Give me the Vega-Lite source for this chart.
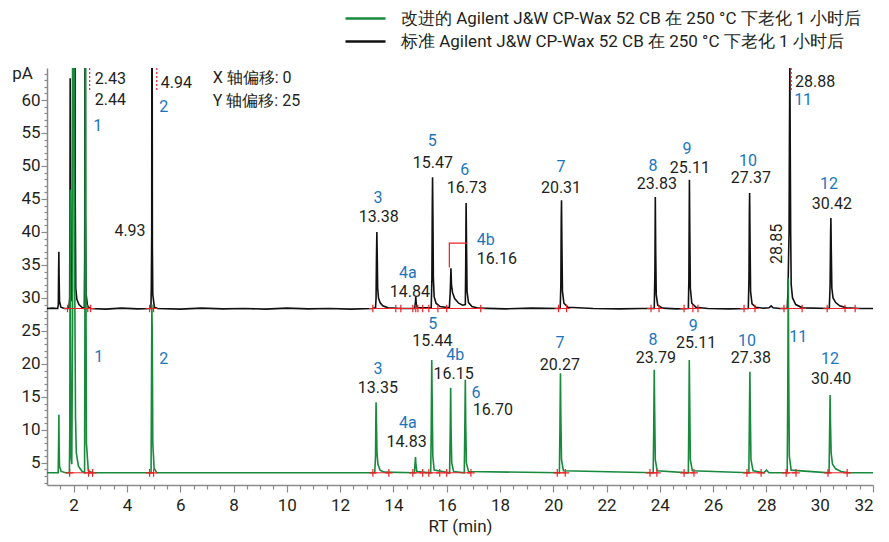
{
 "$schema": "https://vega.github.io/schema/vega-lite/v6.json",
 "width": 826,
 "height": 417,
 "autosize": {"type": "none"},
 "padding": {"left": 47, "top": 68, "right": 16, "bottom": 57},
 "background": "white",
 "config": {
  "font": "Roboto",
  "view": {"stroke": null},
  "axis": {"grid": false, "labelFont": "Roboto", "titleFont": "Roboto", "labelFontSize": 17, "titleFontSize": 17, "titleFontWeight": "normal", "labelColor": "#231f20", "titleColor": "#231f20", "domainColor": "#8a8a8a", "tickColor": "#8a8a8a", "domainWidth": 1.5, "tickWidth": 1.2}
 },
 "datasets": {
  "black": [
   {"t":1.0,"v":28.4},{"t":1.2,"v":28.45},{"t":1.4,"v":28.4},{"t":1.425,"v":29},{"t":1.435,"v":33.5},{"t":1.445,"v":37.0},{"t":1.455,"v":33},{"t":1.47,"v":29.5},{"t":1.52,"v":28.6},{"t":1.65,"v":28.4},
   {"t":1.82,"v":28.4},{"t":1.85,"v":30},{"t":1.862,"v":45},{"t":1.87,"v":63.3},{"t":1.88,"v":45},{"t":1.895,"v":31},{"t":1.92,"v":29.5},{"t":1.95,"v":31},{"t":1.965,"v":70},{"t":1.98,"v":100},{"t":1.995,"v":75},{"t":2.01,"v":100},{"t":2.04,"v":100},{"t":2.06,"v":45},{"t":2.08,"v":31.5},{"t":2.12,"v":29.8},{"t":2.2,"v":29.0},{"t":2.3,"v":28.6},
   {"t":2.4,"v":28.4},{"t":2.415,"v":36},{"t":2.43,"v":100},{"t":2.445,"v":42},{"t":2.47,"v":30.5},{"t":2.52,"v":28.8},{"t":2.62,"v":28.4},{"t":3.2,"v":28.3},{"t":3.8,"v":28.45},{"t":4.4,"v":28.35},
   {"t":4.9,"v":28.4},{"t":4.915,"v":31.5},{"t":4.93,"v":40},{"t":4.94,"v":100},{"t":4.955,"v":38},{"t":4.97,"v":30.5},{"t":5.03,"v":28.6},{"t":5.15,"v":28.4},
   {"t":6.0,"v":28.3},{"t":6.8,"v":28.45},{"t":7.6,"v":28.35},{"t":8.4,"v":28.4},{"t":9.2,"v":28.3},{"t":10.0,"v":28.45},{"t":10.8,"v":28.35},{"t":11.6,"v":28.4},{"t":12.4,"v":28.3},{"t":13.2,"v":28.4},
   {"t":13.33,"v":28.5},{"t":13.35,"v":30},{"t":13.365,"v":36},{"t":13.38,"v":40.0},{"t":13.395,"v":36},{"t":13.41,"v":31.5},{"t":13.44,"v":30},{"t":13.5,"v":29.3},{"t":13.6,"v":28.8},{"t":13.8,"v":28.5},{"t":14.3,"v":28.4},
   {"t":14.8,"v":28.4},{"t":14.83,"v":29.5},{"t":14.84,"v":30.2},{"t":14.86,"v":29},{"t":14.9,"v":28.5},
   {"t":15.42,"v":28.5},{"t":15.445,"v":33},{"t":15.46,"v":44},{"t":15.47,"v":48.3},{"t":15.485,"v":42},{"t":15.5,"v":33},{"t":15.53,"v":30.2},{"t":15.6,"v":29.2},{"t":15.75,"v":28.7},
   {"t":16.1,"v":28.5},{"t":16.135,"v":31},{"t":16.16,"v":34.5},{"t":16.18,"v":32},{"t":16.22,"v":30.8},{"t":16.3,"v":29.9},{"t":16.45,"v":29.2},{"t":16.6,"v":28.9},
   {"t":16.7,"v":29},{"t":16.715,"v":35},{"t":16.725,"v":42},{"t":16.73,"v":44.4},{"t":16.745,"v":38},{"t":16.765,"v":31},{"t":16.82,"v":29.3},{"t":16.95,"v":28.7},{"t":17.2,"v":28.45},{"t":18.2,"v":28.35},{"t":19.2,"v":28.45},
   {"t":20.26,"v":28.4},{"t":20.285,"v":32},{"t":20.3,"v":42},{"t":20.31,"v":44.8},{"t":20.325,"v":38},{"t":20.345,"v":31},{"t":20.4,"v":29.2},{"t":20.55,"v":28.6},{"t":21.5,"v":28.4},{"t":22.5,"v":28.35},{"t":23.3,"v":28.4},
   {"t":23.79,"v":28.4},{"t":23.815,"v":34},{"t":23.83,"v":45.3},{"t":23.845,"v":37},{"t":23.865,"v":30.5},{"t":23.92,"v":28.9},{"t":24.1,"v":28.45},{"t":24.6,"v":28.35},
   {"t":25.07,"v":28.4},{"t":25.09,"v":33},{"t":25.105,"v":44},{"t":25.11,"v":47.9},{"t":25.125,"v":40},{"t":25.145,"v":31.5},{"t":25.2,"v":29.2},{"t":25.35,"v":28.6},{"t":25.8,"v":28.4},{"t":26.6,"v":28.35},
   {"t":27.32,"v":28.4},{"t":27.345,"v":33},{"t":27.36,"v":43},{"t":27.37,"v":45.9},{"t":27.385,"v":39},{"t":27.405,"v":31},{"t":27.46,"v":29.1},{"t":27.6,"v":28.6},{"t":27.9,"v":28.45},{"t":28.1,"v":28.5},{"t":28.18,"v":28.8},{"t":28.25,"v":28.5},{"t":28.5,"v":28.4},
   {"t":28.78,"v":28.4},{"t":28.81,"v":31},{"t":28.835,"v":37},{"t":28.85,"v":40},{"t":28.865,"v":55},{"t":28.88,"v":66},{"t":28.895,"v":52},{"t":28.91,"v":40},{"t":28.93,"v":32},{"t":28.98,"v":30},{"t":29.1,"v":29},{"t":29.35,"v":28.5},
   {"t":30.36,"v":28.4},{"t":30.39,"v":32},{"t":30.41,"v":40},{"t":30.42,"v":42.1},{"t":30.435,"v":37},{"t":30.455,"v":31.5},{"t":30.5,"v":30},{"t":30.6,"v":29.3},{"t":30.75,"v":28.8},{"t":31.0,"v":28.5},{"t":31.5,"v":28.4},{"t":32.0,"v":28.4}
  ],
  "green": [
   {"t":1.0,"v":3.5},{"t":1.3,"v":3.5},{"t":1.42,"v":3.5},{"t":1.435,"v":8},{"t":1.445,"v":12.3},{"t":1.455,"v":7.5},{"t":1.47,"v":4.5},{"t":1.53,"v":3.7},{"t":1.7,"v":3.5},
   {"t":1.84,"v":3.5},{"t":1.855,"v":10},{"t":1.87,"v":46.4},{"t":1.885,"v":20},{"t":1.9,"v":6},{"t":1.93,"v":4.8},{"t":1.96,"v":25},{"t":1.975,"v":100},{"t":2.0,"v":100},{"t":2.025,"v":60},{"t":2.045,"v":30},{"t":2.07,"v":12},{"t":2.1,"v":6.5},{"t":2.18,"v":4.5},{"t":2.3,"v":3.8},
   {"t":2.41,"v":3.5},{"t":2.425,"v":30},{"t":2.44,"v":100},{"t":2.455,"v":40},{"t":2.48,"v":8},{"t":2.55,"v":3.8},{"t":2.7,"v":3.5},{"t":3.5,"v":3.5},{"t":4.2,"v":3.5},
   {"t":4.905,"v":3.5},{"t":4.92,"v":15},{"t":4.935,"v":29},{"t":4.95,"v":25},{"t":4.97,"v":8},{"t":5.02,"v":4.2},{"t":5.12,"v":3.5},{"t":8.0,"v":3.5},{"t":11.0,"v":3.5},
   {"t":13.3,"v":3.5},{"t":13.33,"v":6},{"t":13.34,"v":11},{"t":13.35,"v":14.2},{"t":13.365,"v":11},{"t":13.385,"v":6.5},{"t":13.42,"v":4.8},{"t":13.5,"v":3.9},{"t":13.65,"v":3.6},
   {"t":14.79,"v":3.5},{"t":14.815,"v":5},{"t":14.83,"v":5.9},{"t":14.845,"v":4.8},{"t":14.88,"v":3.7},
   {"t":15.4,"v":3.5},{"t":15.42,"v":10},{"t":15.435,"v":18},{"t":15.44,"v":20.6},{"t":15.455,"v":15},{"t":15.48,"v":6},{"t":15.53,"v":3.9},
   {"t":16.11,"v":3.5},{"t":16.13,"v":9},{"t":16.15,"v":16.4},{"t":16.165,"v":10},{"t":16.19,"v":5},{"t":16.26,"v":3.7},
   {"t":16.66,"v":3.5},{"t":16.68,"v":10},{"t":16.7,"v":17.6},{"t":16.715,"v":11},{"t":16.74,"v":5},{"t":16.82,"v":3.7},
   {"t":20.23,"v":3.5},{"t":20.25,"v":10},{"t":20.27,"v":18.6},{"t":20.285,"v":12},{"t":20.31,"v":5.5},{"t":20.38,"v":3.8},
   {"t":23.75,"v":3.5},{"t":23.77,"v":10},{"t":23.79,"v":19.1},{"t":23.805,"v":13},{"t":23.83,"v":5.5},{"t":23.9,"v":3.8},
   {"t":25.07,"v":3.5},{"t":25.09,"v":12},{"t":25.105,"v":20.6},{"t":25.12,"v":15},{"t":25.145,"v":5.5},{"t":25.22,"v":3.8},
   {"t":27.34,"v":3.5},{"t":27.36,"v":11},{"t":27.38,"v":18.8},{"t":27.395,"v":13},{"t":27.42,"v":5.5},{"t":27.5,"v":3.8},{"t":27.9,"v":3.5},{"t":28.0,"v":3.9},{"t":28.1,"v":3.5},
   {"t":28.78,"v":3.5},{"t":28.8,"v":15},{"t":28.82,"v":33},{"t":28.835,"v":20},{"t":28.86,"v":6},{"t":28.93,"v":3.9},
   {"t":30.35,"v":3.5},{"t":30.37,"v":9},{"t":30.39,"v":15.3},{"t":30.405,"v":11},{"t":30.43,"v":6.5},{"t":30.48,"v":4.8},{"t":30.6,"v":4.1},{"t":30.8,"v":3.7},{"t":31.1,"v":3.5},{"t":32.0,"v":3.5}
  ],
  "segs": [
   {"t":1.77,"t2":2.64,"v":28.4},{"t":4.85,"t2":5.0,"v":28.4},{"t":13.23,"t2":17.28,"v":28.4},{"t":20.2,"t2":20.5,"v":28.4},{"t":23.67,"t2":23.97,"v":28.4},{"t":24.91,"t2":25.43,"v":28.4},{"t":27.16,"t2":27.57,"v":28.4},{"t":28.66,"t2":29.34,"v":28.4},{"t":30.28,"t2":31.33,"v":28.4},
   {"t":1.85,"t2":2.71,"v":3.5},{"t":4.85,"t2":5.0,"v":3.5},{"t":13.23,"t2":13.83,"v":3.5},{"t":14.73,"t2":15.1,"v":3.5},{"t":15.33,"t2":15.74,"v":3.5},{"t":16.0,"t2":16.91,"v":3.5},{"t":20.15,"t2":20.45,"v":3.5},{"t":23.63,"t2":23.89,"v":3.5},{"t":24.91,"t2":25.28,"v":3.5},{"t":27.27,"t2":27.8,"v":3.5},{"t":28.74,"t2":29.11,"v":3.5},{"t":30.31,"t2":31.03,"v":3.5}
  ],
  "cross": [
   {"t":1.77,"v":28.4},{"t":2.53,"v":28.4},{"t":2.64,"v":28.4},{"t":4.85,"v":28.4},{"t":5.0,"v":28.4},{"t":13.23,"v":28.4},{"t":14.09,"v":28.4},{"t":14.28,"v":28.4},{"t":14.73,"v":28.4},{"t":14.84,"v":28.4},{"t":14.92,"v":28.4},{"t":15.1,"v":28.4},{"t":15.33,"v":28.4},{"t":15.67,"v":28.4},{"t":16.0,"v":28.4},{"t":17.28,"v":28.4},{"t":20.2,"v":28.4},{"t":20.5,"v":28.4},{"t":23.67,"v":28.4},{"t":23.97,"v":28.4},{"t":24.91,"v":28.4},{"t":25.24,"v":28.4},{"t":25.43,"v":28.4},{"t":27.16,"v":28.4},{"t":27.57,"v":28.4},{"t":28.66,"v":28.4},{"t":29.34,"v":28.4},{"t":30.28,"v":28.4},{"t":30.95,"v":28.4},{"t":31.33,"v":28.4},
   {"t":1.85,"v":3.5},{"t":2.56,"v":3.5},{"t":2.71,"v":3.5},{"t":4.85,"v":3.5},{"t":5.0,"v":3.5},{"t":13.23,"v":3.5},{"t":13.83,"v":3.5},{"t":14.73,"v":3.5},{"t":15.1,"v":3.5},{"t":15.33,"v":3.5},{"t":15.74,"v":3.5},{"t":16.0,"v":3.5},{"t":16.91,"v":3.5},{"t":20.15,"v":3.5},{"t":20.45,"v":3.5},{"t":23.63,"v":3.5},{"t":23.89,"v":3.5},{"t":24.91,"v":3.5},{"t":25.28,"v":3.5},{"t":27.27,"v":3.5},{"t":27.8,"v":3.5},{"t":28.74,"v":3.5},{"t":29.11,"v":3.5},{"t":30.31,"v":3.5},{"t":31.03,"v":3.5}
  ],
  "dots": [
   {"t":2.6,"v":64.85,"v2":61.2},{"t":5.12,"v":64.85,"v2":61.2},{"t":28.93,"v":64.85,"v2":61.2}
  ],
  "bracket": [
   {"t":16.1,"v":34.6},{"t":16.1,"v":38.3},{"t":16.76,"v":38.3}
  ],
  "labC": [
   {"t":2.9,"v":56.0,"txt":"1","k":"n"},{"t":5.38,"v":58.9,"txt":"2","k":"n"},{"t":13.42,"v":45.2,"txt":"3","k":"n"},{"t":14.54,"v":33.8,"txt":"4a","k":"n"},{"t":15.46,"v":53.8,"txt":"5","k":"n"},{"t":16.68,"v":49.4,"txt":"6","k":"n"},{"t":20.29,"v":49.9,"txt":"7","k":"n"},{"t":23.74,"v":50.0,"txt":"8","k":"n"},{"t":25.02,"v":52.5,"txt":"9","k":"n"},{"t":27.31,"v":50.8,"txt":"10","k":"n"},{"t":30.35,"v":47.2,"txt":"12","k":"n"},
   {"t":13.45,"v":42.3,"txt":"13.38","k":"r"},{"t":14.62,"v":30.9,"txt":"14.84","k":"r"},{"t":15.48,"v":50.45,"txt":"15.47","k":"r"},{"t":16.76,"v":46.7,"txt":"16.73","k":"r"},{"t":20.29,"v":46.7,"txt":"20.31","k":"r"},{"t":23.89,"v":47.3,"txt":"23.83","k":"r"},{"t":25.13,"v":49.75,"txt":"25.11","k":"r"},{"t":27.42,"v":48.2,"txt":"27.37","k":"r"},{"t":30.46,"v":44.2,"txt":"30.42","k":"r"},
   {"t":2.94,"v":21.1,"txt":"1","k":"n"},{"t":5.38,"v":20.8,"txt":"2","k":"n"},{"t":13.42,"v":19.3,"txt":"3","k":"n"},{"t":14.54,"v":11.0,"txt":"4a","k":"n"},{"t":15.48,"v":26.1,"txt":"5","k":"n"},{"t":16.32,"v":21.4,"txt":"4b","k":"n"},{"t":17.1,"v":15.6,"txt":"6","k":"n"},{"t":20.25,"v":23.1,"txt":"7","k":"n"},{"t":23.74,"v":23.6,"txt":"8","k":"n"},{"t":25.25,"v":25.8,"txt":"9","k":"n"},{"t":27.27,"v":23.5,"txt":"10","k":"n"},{"t":29.19,"v":24.1,"txt":"11","k":"n"},{"t":30.39,"v":20.8,"txt":"12","k":"n"},
   {"t":13.42,"v":16.4,"txt":"13.35","k":"r"},{"t":14.5,"v":8.2,"txt":"14.83","k":"r"},{"t":15.46,"v":23.4,"txt":"15.44","k":"r"},{"t":16.26,"v":18.5,"txt":"16.15","k":"r"},{"t":20.25,"v":19.85,"txt":"20.27","k":"r"},{"t":23.85,"v":20.9,"txt":"23.79","k":"r"},{"t":25.36,"v":23.2,"txt":"25.11","k":"r"},{"t":27.42,"v":20.9,"txt":"27.38","k":"r"},{"t":30.43,"v":17.7,"txt":"30.40","k":"r"}
  ],
  "labL": [
   {"t":2.79,"v":63.2,"txt":"2.43","k":"r"},{"t":2.79,"v":60.0,"txt":"2.44","k":"r"},{"t":5.27,"v":62.6,"txt":"4.94","k":"r"},{"t":7.22,"v":63.3,"txt":"X 轴偏移: 0","k":"r"},{"t":7.22,"v":59.85,"txt":"Y 轴偏移: 25","k":"r"},{"t":29.07,"v":62.75,"txt":"28.88","k":"r"},{"t":29.04,"v":60.0,"txt":"11","k":"n"},{"t":17.13,"v":38.8,"txt":"4b","k":"n"},{"t":17.13,"v":35.9,"txt":"16.16","k":"r"},{"t":16.98,"v":13.0,"txt":"16.70","k":"r"}
  ],
  "labR": [
   {"t":4.7,"v":40.15,"txt":"4.93","k":"r"}
  ],
  "labV": [
   {"t":28.4,"v":38.2,"txt":"28.85","k":"r"}
  ]
 },
 "layer": [
  {
   "data": {"name": "black"},
   "mark": {"type": "line", "strokeWidth": 1.6, "clip": true, "interpolate": "linear"},
   "encoding": {
    "x": {"field": "t", "type": "quantitative", "sort": null, "scale": {"domain": [1, 32], "nice": false, "zero": false},
          "axis": {"orient": "bottom", "values": [1.5,2.5,3,3.5,4.5,5,5.5,6.5,7,7.5,8.5,9,9.5,10.5,11,11.5,12.5,13,13.5,14.5,15,15.5,16.5,17,17.5,18.5,19,19.5,20.5,21,21.5,22.5,23,23.5,24.5,25,25.5,26.5,27,27.5,28.5,29,29.5,30.5,31,31.5], "labels": false, "domain": false, "tickSize": 4, "title": null}},
    "y": {"field": "v", "type": "quantitative", "scale": {"domain": [1.65, 64.85], "nice": false, "zero": false},
          "axis": {"orient": "left", "values": [2,3,4,6,7,8,9,11,12,13,14,16,17,18,19,21,22,23,24,26,27,28,29,31,32,33,34,36,37,38,39,41,42,43,44,46,47,48,49,51,52,53,54,56,57,58,59,61,62,63,64], "labels": false, "domain": false, "tickSize": 3, "title": null}},
    "color": {"datum": "B", "scale": {"domain": ["A", "B"], "range": ["#178a3c", "#111111"]}}
   }
  },
  {
   "data": {"name": "green"},
   "mark": {"type": "line", "strokeWidth": 1.6, "clip": true, "interpolate": "linear"},
   "encoding": {
    "x": {"field": "t", "type": "quantitative", "sort": null, "scale": {"domain": [1, 32], "nice": false, "zero": false},
          "axis": {"orient": "bottom", "values": [2,4,6,8,10,12,14,16,18,20,22,24,26,28,30,32], "tickSize": 7, "labelPadding": 5, "title": "RT (min)", "titlePadding": 5}},
    "y": {"field": "v", "type": "quantitative", "scale": {"domain": [1.65, 64.85], "nice": false, "zero": false},
          "axis": {"orient": "left", "values": [5,10,15,20,25,30,35,40,45,50,55,60,65], "labelExpr": "datum.value == 65 ? '' : datum.label", "tickSize": 6, "labelPadding": 1, "title": "pA", "titleAngle": 0, "titleX": -25, "titleY": 5, "titleAlign": "center", "titleBaseline": "middle"}},
    "color": {"datum": "A", "scale": {"domain": ["A", "B"], "range": ["#178a3c", "#111111"]},
      "legend": {"orient": "none", "legendX": 310, "legendY": -58, "title": null, "symbolType": "M-4,0H4", "symbolSize": 100, "symbolStrokeWidth": 2.5, "labelFontSize": 17, "labelFont": "Roboto", "labelColor": "#231f20", "labelOffset": 27, "labelLimit": 700, "rowPadding": 5,
        "labelExpr": "datum.label == 'A' ? '改进的 Agilent J&W CP-Wax 52 CB 在 250 °C 下老化 1 小时后' : '标准 Agilent J&W CP-Wax 52 CB 在 250 °C 下老化 1 小时后'"}}
   }
  },
  {
   "data": {"name": "segs"},
   "mark": {"type": "rule", "color": "#ec2227", "strokeWidth": 1, "clip": true},
   "encoding": {
    "x": {"field": "t", "type": "quantitative", "axis": null},
    "x2": {"field": "t2"},
    "y": {"field": "v", "type": "quantitative", "axis": null}
   }
  },
  {
   "data": {"name": "cross"},
   "mark": {"type": "point", "shape": "M-1,0H1M0,-1V1", "size": 60, "stroke": "#ec2227", "strokeWidth": 1.2, "filled": false, "opacity": 1, "clip": true},
   "encoding": {
    "x": {"field": "t", "type": "quantitative", "axis": null},
    "y": {"field": "v", "type": "quantitative", "axis": null}
   }
  },
  {
   "data": {"name": "dots"},
   "mark": {"type": "rule", "color": "#ec2227", "strokeWidth": 1.2, "strokeDash": [2, 2]},
   "encoding": {
    "x": {"field": "t", "type": "quantitative", "axis": null},
    "y": {"field": "v", "type": "quantitative", "axis": null},
    "y2": {"field": "v2"}
   }
  },
  {
   "data": {"name": "bracket"},
   "mark": {"type": "line", "color": "#ec2227", "strokeWidth": 1.2},
   "encoding": {
    "x": {"field": "t", "type": "quantitative", "axis": null},
    "y": {"field": "v", "type": "quantitative", "axis": null},
    "order": {"value": 0}
   }
  },
  {
   "data": {"name": "labC"},
   "mark": {"type": "text", "font": "Roboto", "fontSize": 16, "align": "center", "baseline": "middle"},
   "encoding": {
    "x": {"field": "t", "type": "quantitative", "axis": null},
    "y": {"field": "v", "type": "quantitative", "axis": null},
    "text": {"field": "txt"},
    "color": {"condition": {"test": "datum.k == 'n'", "value": "#1c75bc"}, "value": "#231f20"}
   }
  },
  {
   "data": {"name": "labL"},
   "mark": {"type": "text", "font": "Roboto", "fontSize": 16, "align": "left", "baseline": "middle"},
   "encoding": {
    "x": {"field": "t", "type": "quantitative", "axis": null},
    "y": {"field": "v", "type": "quantitative", "axis": null},
    "text": {"field": "txt"},
    "color": {"condition": {"test": "datum.k == 'n'", "value": "#1c75bc"}, "value": "#231f20"}
   }
  },
  {
   "data": {"name": "labR"},
   "mark": {"type": "text", "font": "Roboto", "fontSize": 16, "align": "right", "baseline": "middle", "color": "#231f20"},
   "encoding": {
    "x": {"field": "t", "type": "quantitative", "axis": null},
    "y": {"field": "v", "type": "quantitative", "axis": null},
    "text": {"field": "txt"}
   }
  },
  {
   "data": {"name": "labV"},
   "mark": {"type": "text", "font": "Roboto", "fontSize": 16, "align": "center", "baseline": "middle", "angle": 270, "color": "#231f20"},
   "encoding": {
    "x": {"field": "t", "type": "quantitative", "axis": null},
    "y": {"field": "v", "type": "quantitative", "axis": null},
    "text": {"field": "txt"}
   }
  }
 ],
 "resolve": {"axis": {"x": "independent", "y": "independent"}}
}
